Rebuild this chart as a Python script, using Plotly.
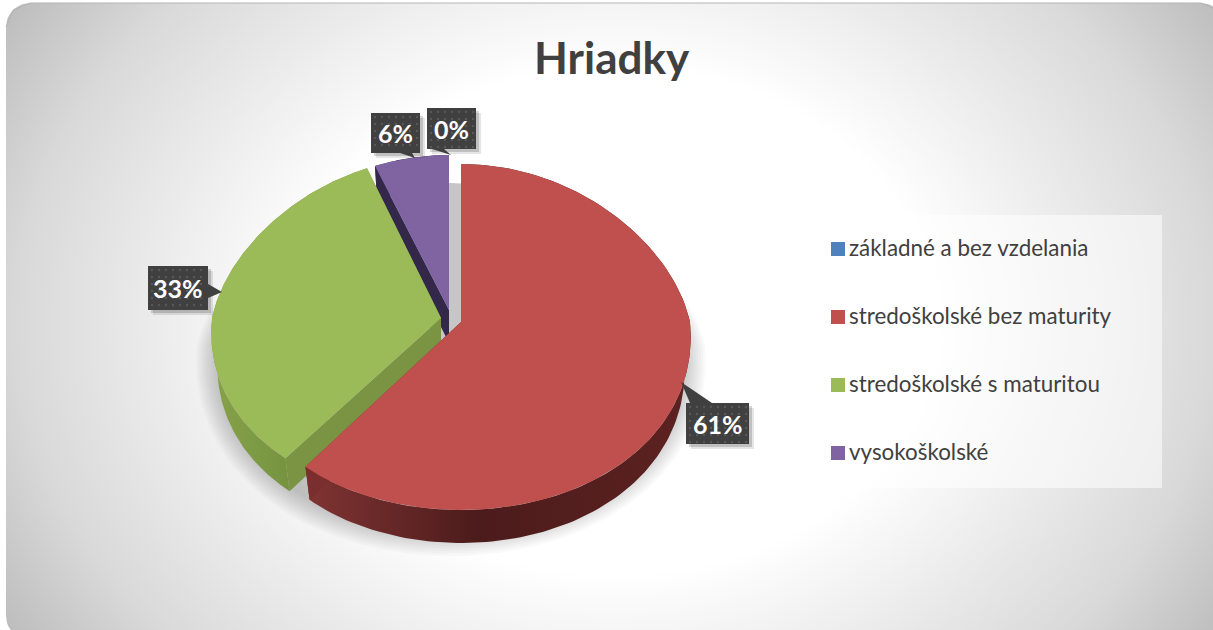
import numpy as np
import plotly.graph_objects as go

# ---------- data ----------
title = "Hriadky"
categories = ["základné a bez vzdelania", "stredoškolské bez maturity",
              "stredoškolské s maturitou", "vysokoškolské"]
shares = [0, 61, 33, 6]
share_labels = ["0%", "61%", "33%", "6%"]

# ---------- styling ----------
colors = ["#4F81BD", "#C0504D", "#9BBB59", "#8064A2"]
WALL = 33
WALL_SHRINK = 6
slice_geom = {
    1: dict(cx=461, cy=322, rx=229, top=158, bot=188),
    2: dict(cx=441, cy=318, rx=229, top=161, bot=182),
    3: dict(cx=449, cy=310, rx=229, top=155, bot=180),
}
shadow_geom = dict(cx=451, cy=345, rx=246, top=162, bot=203)
wall_grad = {
    1: [[0, "#803433"], [0.45, "#4c1b1b"], [1, "#5c2221"]],
    2: [[0, "#86a34a"], [0.7, "#6f8c3c"], [1, "#7a9a40"]],
    3: [[0, "#33284a"], [1, "#33284a"]],
}
cut_color = {1: "#7a2f2e", 2: "#7a9443", 3: "#33284a"}
box_geom = {0: (427, 108, 476, 149), 1: (686, 403, 749, 444),
            2: (148, 266, 208, 310), 3: (371, 113, 420, 153)}
tails = {0: [(432, 149), (444, 149), (451, 155)],
         1: [(690, 403), (712, 403), (681, 382)],
         2: [(208, 284), (208, 298), (222, 292)],
         3: [(400, 153), (412, 153), (415, 158)]}

fr = np.cumsum([0] + shares) / sum(shares) * 2 * np.pi


def ellipse_pts(g, th, dy=0, grow=0, grow_top=None):
    c, s = np.cos(th), np.sin(th)
    k = np.where(c > 0, 0.15, 0.08)
    x = g["cx"] + (g["rx"] + grow) * s / (1 + k * c)
    gt = grow if grow_top is None else grow_top
    ry = np.where(c > 0, g["top"] + gt, g["bot"] + grow)
    return x, g["cy"] - c * ry + dy


def poly(x, y, **kw):
    return go.Scatter(x=list(x), y=list(y), mode="lines", fill="toself",
                      line=dict(width=0), hoverinfo="skip", showlegend=False, **kw)


fig = go.Figure()

# panel with a radial gradient; zero-area spurs widen the gradient's bounding box
X0, Y0, X1, Y1, R = 6, 3, 1225, 640, 24
corner = np.linspace(0, np.pi / 2, 12)
mx, my = (X0 + X1) / 2, (Y0 + Y1) / 2
hw, hh = (X1 - X0) * 0.72, (Y1 - Y0) * 1.1
px = np.concatenate([[mx, mx, mx],
                     X1 - R + R * np.sin(corner), [X1, mx + hw, X1],
                     X1 - R + R * np.cos(corner), [mx, mx, mx],
                     X0 + R - R * np.sin(corner), [X0, mx - hw, X0],
                     X0 + R - R * np.cos(corner)])
py = np.concatenate([[Y0, my - hh, Y0],
                     Y0 + R - R * np.cos(corner), [my, my, my],
                     Y1 - R + R * np.sin(corner), [Y1, my + hh, Y1],
                     Y1 - R + R * np.cos(corner), [my, my, my],
                     Y0 + R - R * np.sin(corner)])
fig.add_trace(poly(px, py, fillgradient=dict(
    type="radial",
    colorscale=[[0, "#ffffff"], [0.36, "#ffffff"], [0.68, "#d9d9d9"], [0.82, "#bdbdbd"], [1, "#b0b0b0"]])))
fig.add_trace(go.Scatter(x=[X0, X0 + R * 0.3, X0 + R, X1 - R, X1 - R * 0.3, X1],
                         y=[Y0 + R, Y0 + R * 0.3, Y0, Y0, Y0 + R * 0.3, Y0 + R], mode="lines",
                         line=dict(color="#b4b4b4", width=1), hoverinfo="skip", showlegend=False))

# soft shadow built from stacked translucent copies of the whole pie outline
th_all = np.linspace(0, 2 * np.pi, 240)
for grow in np.linspace(8, -14, 10):
    x, y = ellipse_pts(shadow_geom, th_all, grow=grow, grow_top=0)
    fig.add_trace(poly(x, y, fillcolor="rgba(0,0,0,0.025)"))

# exploded slices, back to front
for i in (3, 2, 1):
    g = slice_geom[i]
    th = np.linspace(fr[i], fr[i + 1], 160)
    x, y = ellipse_pts(g, th)
    lo = dict(g, rx=g["rx"] - WALL_SHRINK)
    xl, yl = ellipse_pts(lo, th, dy=WALL)
    fig.add_trace(poly(np.r_[x, xl[::-1]], np.r_[y, yl[::-1]],
                       fillgradient=dict(type="horizontal", colorscale=wall_grad[i])))
    for j in (0, -1):
        fig.add_trace(poly([g["cx"], x[j], xl[j], g["cx"]],
                           [g["cy"], y[j], yl[j], g["cy"] + WALL],
                           fillcolor=cut_color[i]))
    fig.add_trace(poly(np.r_[g["cx"], x], np.r_[g["cy"], y], fillcolor=colors[i], name=categories[i]))

# legend panel + entries
fig.add_trace(poly([779, 1162, 1162, 779], [215, 215, 488, 488], fillcolor="rgba(255,255,255,0.55)"))
legend_y = [249, 317, 385, 453]
for cat, col, ly in zip(categories, colors, legend_y):
    fig.add_trace(go.Scatter(x=[838], y=[ly], mode="markers",
                             marker=dict(symbol="square", size=14, color=col),
                             hoverinfo="skip", showlegend=False))
    fig.add_trace(go.Scatter(x=[849], y=[ly + 1.5], mode="text", text=[cat], textposition="middle right",
                             textfont=dict(family="Lato", size=22.4, color="#404040"),
                             hoverinfo="skip", showlegend=False))

# data-label call-outs
for i, lab in enumerate(share_labels):
    x0, y0, x1, y1 = box_geom[i]
    for d, col in ((5, "rgba(0,0,0,0.10)"), (3, "rgba(0,0,0,0.16)")):
        fig.add_trace(poly([x0 + d, x1 + d, x1 + d, x0 + d], [y0 + d, y0 + d, y1 + d, y1 + d],
                           fillcolor=col))
    tx, ty = zip(*tails[i])
    fig.add_trace(poly(tx, ty, fillcolor="#404040"))
    fig.add_trace(poly([x0, x1, x1, x0], [y0, y0, y1, y1], fillcolor="#404040"))
    dx, dy = np.meshgrid(np.arange(x0 + 4, x1 - 1, 7), np.arange(y0 + 4, y1 - 1, 7))
    fig.add_trace(go.Scatter(x=dx.ravel(), y=dy.ravel(), mode="markers",
                             marker=dict(size=2.5, color="#585858"), hoverinfo="skip", showlegend=False))
    fig.add_annotation(x=(x0 + x1) / 2, y=(y0 + y1) / 2, text=f"<b>{lab}</b>", showarrow=False,
                       font=dict(family="Lato", size=25, color="#ffffff"))

fig.add_annotation(x=612, y=57, text=f"<b>{title}</b>", showarrow=False,
                   font=dict(family="Lato", size=44, color="#404040"))

fig.update_layout(
    width=1213, height=630, margin=dict(l=0, r=0, t=0, b=0), showlegend=False,
    paper_bgcolor="#ffffff", plot_bgcolor="rgba(0,0,0,0)",
    xaxis=dict(range=[0, 1213], visible=False, fixedrange=True),
    yaxis=dict(range=[630, 0], visible=False, fixedrange=True),
)
fig.write_html("out.html", config=dict(displayModeBar=False),
               post_script="document.body.style.margin='0';document.body.style.overflow='hidden';")
